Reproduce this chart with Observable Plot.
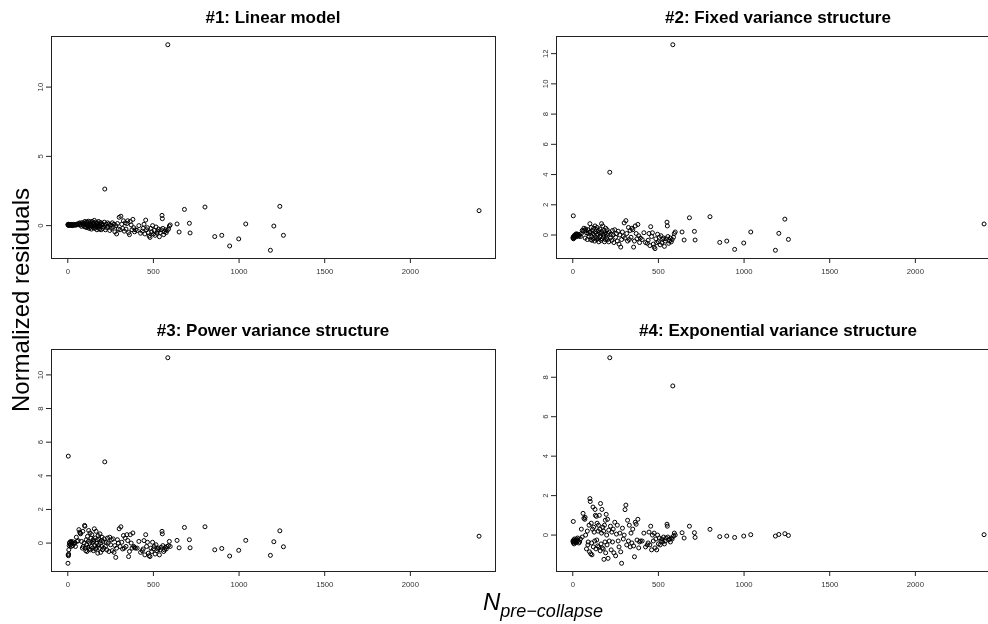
<!DOCTYPE html>
<html><head><meta charset="utf-8">
<script src="https://cdn.jsdelivr.net/npm/d3@7"></script>
<script src="https://cdn.jsdelivr.net/npm/@observablehq/plot@0.6"></script>
<style>
html,body{margin:0;padding:0;background:#fff;overflow:hidden;width:988px;height:624px;}
#root{position:relative;width:988px;height:624px;overflow:hidden;font-family:"Liberation Sans",Arial,sans-serif;}
.panel{position:absolute;will-change:transform;}
.overlay{position:absolute;left:0;top:0;pointer-events:none;}
</style></head><body><div id="root"></div>
<script>
// N pre-collapse (shared x values)
const N = [1,2,3,4,5,6,8,10,12,15,18,20,22,25,28,30,35,40,45,50,55,60,
  65,70,72,75,80,85,88,90,95,98,
  100,102,105,108,110,112,115,118,120,122,125,128,130,132,135,138,140,142,145,148,150,152,155,158,160,162,165,168,170,172,175,178,180,182,185,188,190,192,195,198,
  200,203,206,210,213,216,220,224,228,232,236,240,245,250,255,260,265,270,275,280,285,290,295,
  300,305,310,315,320,325,330,335,340,345,350,355,360,365,370,375,380,385,390,395,
  405,415,425,435,440,445,450,455,460,465,470,475,480,485,490,495,500,505,510,515,520,525,530,535,540,545,550,552,555,560,565,570,575,580,584,588,593,598,
  638,650,681,710,714,801,858,899,945,998,1039,1183,1203,1238,1259,2401];

const resLinear = [0.08,0.05,0.1,0.02,0.06,0.03,0.08,0.04,0.07,0.02,0.05,0.09,0.03,0.06,0.0,0.04,0.1,0.05,0.02,0.08,0.12,0.06,
  0.15,0.2,0.05,0.1,-0.05,0.22,0.12,0.0,0.18,-0.08,
  0.3,0.1,-0.1,0.25,0.05,-0.15,0.2,-0.05,0.32,0.0,-0.2,0.15,0.28,-0.1,0.1,-0.25,0.05,0.3,-0.05,0.2,-0.15,0.12,0.38,-0.2,0.0,0.25,-0.1,0.15,-0.3,0.05,0.2,-0.12,0.3,0.0,-0.25,0.1,-0.05,0.22,-0.3,0.08,
  0.15,-0.2,0.05,-0.1,0.25,2.64,-0.3,0.1,-0.15,0.2,-0.05,0.12,-0.35,0.05,-0.2,0.2,-0.1,0.1,-0.45,0.0,-0.6,0.15,-0.25,
  0.6,-0.3,0.68,0.1,-0.2,0.35,-0.4,0.2,-0.25,0.15,0.35,-0.5,-0.65,0.3,0.05,-0.3,0.45,-0.15,-0.45,-0.3,
  -0.35,0.0,-0.55,-0.4,-0.2,0.1,-0.6,0.4,-0.3,-0.15,-0.5,-0.75,-0.85,-0.2,-0.45,0.0,-0.6,-0.35,-0.7,-0.1,-0.55,-0.4,-0.25,-0.8,-0.5,-0.3,0.74,0.5,-0.2,-0.65,-0.45,-0.3,-0.5,-0.35,13.06,-0.25,-0.03,0.05,
  0.12,-0.46,1.17,0.17,-0.53,1.34,-0.79,-0.70,-1.47,-0.96,0.12,-1.78,-0.03,1.39,-0.70,1.08];

const resFixed = [-0.2,-0.15,1.27,-0.25,-0.1,-0.2,-0.05,-0.15,0.0,-0.1,0.05,-0.12,0.08,0.02,-0.05,0.05,-0.08,0.0,-0.1,0.1,0.3,0.25,
  0.45,0.3,-0.2,0.4,0.15,-0.3,0.35,0.1,-0.1,0.2,
  0.75,0.2,-0.3,0.5,-0.1,-0.35,0.3,0.1,-0.25,0.45,0.0,-0.4,0.6,0.2,-0.15,0.35,-0.3,0.5,0.05,-0.2,0.3,-0.45,0.15,0.4,-0.1,0.1,-0.35,0.75,0.2,-0.25,0.6,-0.15,0.0,0.3,-0.45,0.15,-0.3,0.45,0.05,-0.2,
  0.35,-0.3,0.1,-0.45,0.2,4.15,-0.2,0.05,-0.35,0.3,0.0,-0.5,0.35,-0.15,0.1,-0.4,0.25,-0.6,0.0,-0.8,-0.3,0.2,-0.1,
  0.8,-0.2,0.95,0.1,-0.4,0.5,-0.3,0.3,-0.15,0.45,0.35,-0.8,-0.4,0.6,0.1,-0.25,0.7,-0.05,-0.5,-0.2,
  -0.3,0.15,-0.5,-0.55,-0.35,0.1,-0.7,0.55,-0.1,0.15,-0.6,-0.8,-0.9,-0.25,-0.5,0.05,-0.45,-0.15,-0.65,-0.05,-0.5,-0.3,-0.2,-0.75,-0.4,-0.25,0.85,0.6,-0.1,-0.55,-0.4,-0.2,-0.45,-0.3,12.59,-0.15,0.1,0.2,
  0.2,-0.33,1.14,0.24,-0.33,1.21,-0.49,-0.40,-0.95,-0.53,0.2,-1.01,0.11,1.05,-0.29,0.73];

const resPower = [-1.2,-0.7,5.17,-0.75,-0.65,-0.4,-0.15,0.0,0.05,-0.1,0.1,-0.2,0.05,0.0,-0.15,0.08,-0.05,0.0,-0.2,0.35,0.1,0.15,
  0.8,0.65,0.6,0.55,0.1,-0.3,0.7,-0.2,0.0,1.05,
  1.0,-0.3,-0.45,0.2,-0.1,-0.5,0.4,-0.25,0.1,0.75,-0.35,0.0,0.6,-0.4,0.3,-0.2,0.5,0.05,-0.3,0.2,-0.45,0.1,0.85,-0.15,0.3,-0.35,0.7,0.0,-0.25,0.2,-0.6,0.45,-0.1,0.25,-0.3,0.55,0.0,-0.55,0.15,-0.2,
  0.35,-0.4,0.1,-0.3,0.25,4.83,-0.2,0.05,-0.4,0.3,0.0,-0.5,0.35,-0.1,0.2,-0.45,0.25,-0.55,-0.15,-0.85,-0.3,0.2,0.0,
  0.85,-0.2,0.97,0.05,-0.35,0.45,-0.3,0.3,-0.2,0.5,0.15,-0.8,-0.5,0.5,0.0,-0.3,0.6,-0.2,-0.25,-0.3,
  -0.3,0.1,-0.55,-0.45,-0.35,0.15,-0.7,0.5,-0.2,0.05,-0.6,-0.75,-0.8,-0.3,-0.5,0.05,-0.35,-0.2,-0.65,-0.1,-0.45,-0.35,-0.3,-0.7,-0.4,-0.25,0.7,0.55,-0.15,-0.5,-0.4,-0.25,-0.35,-0.2,11.02,-0.15,0.1,-0.2,
  0.16,-0.28,0.93,0.20,-0.28,0.97,-0.40,-0.32,-0.77,-0.43,0.16,-0.73,0.08,0.73,-0.22,0.41];

const resExp = [-0.3,-0.35,0.69,-0.4,-0.25,-0.3,-0.45,-0.2,-0.35,-0.3,-0.25,-0.38,-0.2,-0.32,-0.15,-0.28,-0.4,-0.35,-0.2,0.3,-0.1,1.1,
  0.85,0.8,0.9,0.0,-0.7,0.2,-0.5,-0.35,0.5,-0.85,
  1.85,1.7,-0.95,0.6,-0.4,-1.0,0.3,1.42,-0.6,0.4,0.15,-0.3,1.3,1.0,-0.7,0.95,-0.25,0.6,-0.55,0.2,0.5,-0.6,1.0,0.3,-0.8,1.6,-0.45,0.1,1.3,-0.65,0.4,-0.7,0.2,-1.23,0.5,-0.35,0.75,-0.9,1.05,0.0,
  -0.5,0.8,-1.18,0.25,-0.3,8.99,0.45,-0.75,0.15,-0.35,0.3,-0.9,0.65,-1.05,0.05,0.5,-0.3,-0.6,0.1,-0.85,-1.43,0.35,-0.2,
  0.0,1.29,1.52,-0.5,0.75,-0.3,0.5,-0.6,0.1,-0.4,0.3,-0.55,-1.1,0.65,0.55,-0.25,0.8,-0.65,-0.35,-0.3,
  -0.3,0.1,-0.6,-0.5,-0.4,0.15,-0.5,0.45,-0.75,0.0,-0.3,0.1,-0.65,-0.2,-0.75,0.0,-0.45,-0.15,-0.5,-0.3,-0.2,-0.35,-0.1,-0.45,-0.3,-0.15,0.55,0.45,-0.1,-0.25,-0.2,-0.35,-0.15,-0.2,7.56,-0.05,0.1,0.0,
  0.12,-0.15,0.45,0.12,-0.12,0.29,-0.08,-0.05,-0.12,-0.05,0.02,-0.05,0.03,0.07,-0.02,0.02];

const titles = ["#1: Linear model", "#2: Fixed variance structure", "#3: Power variance structure", "#4: Exponential variance structure"];
const xTicks = [0, 500, 1000, 1500, 2000];
const yTicks1 = [0, 5, 10];
const yTicks2 = [0, 2, 4, 6, 8, 10, 12];
const yTicks3 = [0, 2, 4, 6, 8, 10];
const yTicks4 = [0, 2, 4, 6, 8];
const yLabel = "Normalized residuals";
const xLabelMain = "N";
const xLabelSub = "pre\u2212collapse";

for (const arr of [resLinear, resFixed, resPower, resExp]) {
  if (arr.length !== N.length) throw new Error("length mismatch " + arr.length + " vs " + N.length);
}

const root = document.getElementById("root");
const FONT = "Liberation Sans, Arial, Helvetica, sans-serif";
const W = 504, H = 262, ML = 50, MR = 10, MT = 10, MB = 30;
const plain = d => String(d);

const panels = [
  {title: titles[0], y: resLinear, ticks: yTicks1, left: 1, top: 26},
  {title: titles[1], y: resFixed, ticks: yTicks2, left: 506, top: 26},
  {title: titles[2], y: resPower, ticks: yTicks3, left: 1, top: 339},
  {title: titles[3], y: resExp, ticks: yTicks4, left: 506, top: 339}
];

const [xmin, xmax] = d3.extent(N);
const xpad = (xmax - xmin) * 0.04;

const overlay = d3.create("svg")
  .attr("class", "overlay")
  .attr("width", 988).attr("height", 624)
  .attr("font-family", FONT);

for (const p of panels) {
  const [ymin, ymax] = d3.extent(p.y);
  const ypad = (ymax - ymin) * 0.04;
  const data = N.map((n, i) => ({n, r: p.y[i]}));
  const chart = Plot.plot({
    width: W, height: H,
    marginLeft: ML, marginRight: MR, marginTop: MT, marginBottom: MB,
    style: {fontFamily: FONT, fontSize: "7.7px", color: "#222", background: "#fff", overflow: "visible"},
    x: {domain: [xmin - xpad, xmax + xpad]},
    y: {domain: [ymin - ypad, ymax + ypad]},
    marks: [
      Plot.axisX(xTicks, {tickSize: 5, tickPadding: 5, label: null, fontSize: 7.7, tickFormat: plain, fill: "#333"}),
      Plot.axisY(p.ticks, {tickSize: 5, tickPadding: 4, tickRotate: -90, label: null, fontSize: 7.7, tickFormat: plain, fill: "#333"}),
      Plot.dot(data, {x: "n", y: "r", r: 2, stroke: "#000", strokeWidth: 1, fill: "none"}),
      Plot.frame({stroke: "#222", strokeWidth: 1})
    ]
  });
  chart.classList.add("panel");
  chart.style.left = p.left + "px";
  chart.style.top = p.top + "px";
  chart.style.position = "absolute";
  root.appendChild(chart);

  overlay.append("text")
    .attr("x", p.left + ML + (W - ML - MR) / 2)
    .attr("y", p.top + MT - 13)
    .attr("text-anchor", "middle")
    .attr("font-weight", "bold")
    .attr("font-size", 17)
    .attr("fill", "#000")
    .text(p.title);
}

overlay.append("text")
  .attr("transform", "translate(29,300) rotate(-90)")
  .attr("text-anchor", "middle")
  .attr("font-size", 24)
  .attr("fill", "#000")
  .text(yLabel);

const xl = overlay.append("text")
  .attr("x", 483).attr("y", 610)
  .attr("font-style", "italic")
  .attr("fill", "#000");
xl.append("tspan").attr("font-size", 24).text(xLabelMain);
xl.append("tspan").attr("font-size", 18).attr("dy", 7).text(xLabelSub);

root.appendChild(overlay.node());
</script>
</body></html>
